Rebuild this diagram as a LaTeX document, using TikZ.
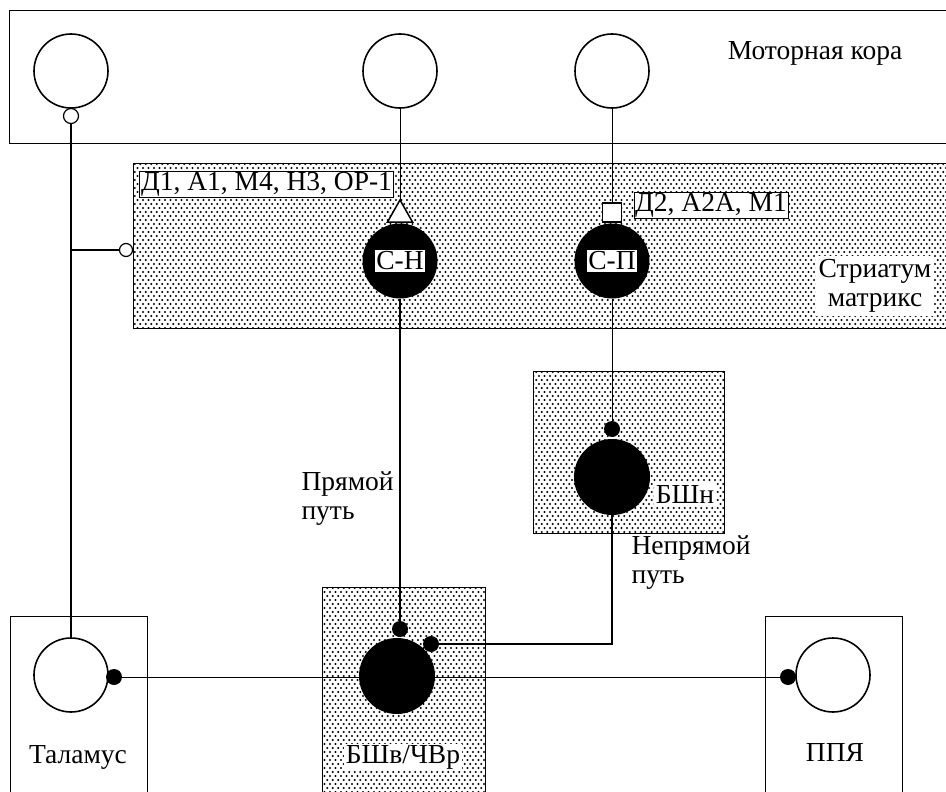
\documentclass[tikz,border=0pt]{standalone}
\usepackage{fontspec}
\setmainfont{Liberation Serif}
\usetikzlibrary{patterns}
\pgfdeclarepatternformonly{stipple}{\pgfqpoint{-1.5pt}{-1.5pt}}{\pgfqpoint{4.5pt}{5.5pt}}{\pgfqpoint{5.5pt}{8pt}}{%
  \pgfpathcircle{\pgfqpoint{0pt}{0pt}}{1.05pt}%
  \pgfpathcircle{\pgfqpoint{2.75pt}{4pt}}{1.05pt}%
  \pgfusepath{fill}}
\tikzset{
  big/.style={font=\fontsize{27.5}{29}\selectfont},
  areabox/.style={draw, line width=1.2pt, anchor=north west, inner sep=0pt},
  dotted area/.style={areabox, pattern=stipple, pattern color=black},
  cell/.style={circle, draw, line width=1.6pt, fill=white, minimum size=74pt, inner sep=0pt},
  blackcell/.style={circle, fill=black, minimum size=76pt, inner sep=0pt},
  bouton/.style={circle, fill=black, minimum size=16pt, inner sep=0pt},
  openbouton/.style={circle, draw, line width=1.2pt, fill=white, minimum size=13pt, inner sep=0pt},
  whitelabel/.style={big, fill=white, inner sep=1.5pt},
  tag/.style={big, draw, line width=0.8pt, fill=white, inner sep=1.2pt},
  thin line/.style={line width=0.9pt},
  thick line/.style={line width=2.3pt},
}
\begin{document}
\begin{tikzpicture}[x=1pt,y=-1pt]
\useasboundingbox (0,0) rectangle (946,792);
\fill[white] (0,0) rectangle (946,792);

% areas
\node[areabox, minimum width=945pt, minimum height=133pt] (cortex) at (9,10) {};
\node[dotted area, minimum width=820pt, minimum height=165pt] (striatum) at (133,163) {};
\node[dotted area, minimum width=191pt, minimum height=162pt] (gpebox) at (533,371) {};
\node[areabox, minimum width=137pt, minimum height=190pt] (thalbox) at (10,616) {};
\node[dotted area, minimum width=163pt, minimum height=220pt] (gpibox) at (322,587) {};
\node[areabox, minimum width=137pt, minimum height=190pt] (ppnbox) at (765,616) {};

% cortex cells
\node[cell] (m1) at (71,71) {};
\node[cell] (m2) at (400,71) {};
\node[cell] (m3) at (612,71) {};
\node[openbouton, minimum width=13pt, minimum height=15pt] (m1b) at (71,116) {};
\node[big, anchor=center] (cortexlbl) at (815,53) {Моторная кора};

% striatum
\node[blackcell, minimum size=75pt] (sn) at (400,261) {};
\node[blackcell, minimum size=75pt] (sp) at (612,261) {};
\node[whitelabel] (snl) at (sn) {С-Н};
\node[whitelabel] (spl) at (sp) {С-П};
\coordinate (tri) at (400,200);
\draw[line width=1.5pt, fill=white, line join=miter] (tri) -- ++(-12.5,22) -- ++(25,0) -- cycle;
\node[draw, line width=1.3pt, fill=white, minimum size=19pt, inner sep=0pt] (sq) at (612,212.5) {};
\node[tag] (rec1) at (266.5,184.5) {Д1, А1, М4, Н3, ОР-1};
\node[tag] (rec2) at (711,205.5) {Д2, А2А, М1};
\node[whitelabel, align=center, inner sep=3pt] (strlbl) at (875,286) {Стриатум\\матрикс};
\node[openbouton] (thb) at (126,250) {};

% GPe
\node[bouton] (gped) at (612,429) {};
\node[blackcell] (gpe) at (612,477) {};
\node[whitelabel] (gpelbl) at (685,494) {БШн};

% thalamus
\node[cell] (th) at (71,675) {};
\node[bouton] (thd) at (114,677) {};
\node[big] (thlbl) at (78,757) {Таламус};

% GPi
\node[blackcell] (gpi) at (397,676) {};
\node[bouton] (gpid1) at (400,629) {};
\node[bouton] (gpid2) at (431,644) {};
\node[whitelabel] (gpilbl) at (403,757) {БШв/ЧВр};

% PPN
\node[cell] (ppn) at (833,675) {};
\node[bouton] (ppnd) at (788,677) {};
\node[big] (ppnlbl) at (835,752) {ППЯ};

% pathway labels
\node[big, align=left, anchor=west] (direct) at (298,499) {Прямой\\путь};
\node[big, align=left, anchor=west] (indirect) at (628,563) {Непрямой\\путь};

% connectors
\draw[thin line] (m2) -- (tri);
\draw[thin line] (m3) -- (sq);
\draw[thick line] (m1b.south) -- (th.north);
\coordinate (junction) at (71,250);
\draw[thick line] (junction) -- (thb.west);
\draw[thin line] (sp.south) -- (gped.north);
\draw[thick line] (sn.south) -- (gpid1.north);
\draw[thick line] (gpe.south) |- (gpid2.east);
\draw[thin line] (thd.east) -- (gpi.west |- thd.east);
\draw[thin line] (gpi.east |- ppnd.west) -- (ppnd.west);
\end{tikzpicture}
\end{document}
